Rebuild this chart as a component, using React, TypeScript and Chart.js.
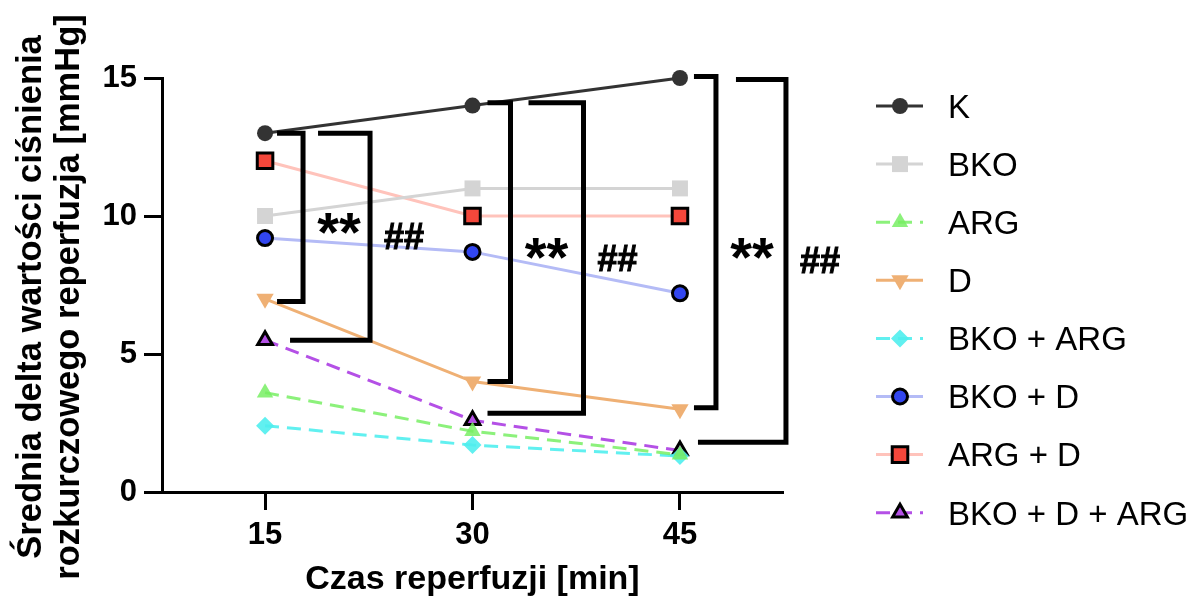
import React, { useEffect, useRef } from 'react';
import { Chart, registerables } from 'chart.js';
import { drawPoint } from 'chart.js/helpers';

Chart.register(...registerables);

// Reperfusion time points [min] and axis ticks
const times = [15, 30, 45];
const xTicks = [15, 30, 45];
const yTicks = [0, 5, 10, 15];

// Mean delta of diastolic pressure [mmHg] per group
const kValues = [13, 14, 15];
const bkoValues = [10, 11, 11];
const argValues = [3.6, 2.2, 1.35];
const dValues = [7, 4, 3];
const bkoArgValues = [2.4, 1.7, 1.3];
const bkoDValues = [9.2, 8.7, 7.2];
const argDValues = [12, 10, 10];
const bkoDArgValues = [5.5, 2.6, 1.5];

// Significance brackets: time point, upper / lower end [mmHg], label
const bracketTimes = [15, 15, 30, 30, 45, 45];
const bracketUpper = [13, 13, 14.1, 14.1, 15.05, 14.95];
const bracketLower = [6.9, 5.5, 4, 2.85, 3.05, 1.8];
const bracketLabels = ['**', '##', '**', '##', '**', '##'];

const FONT = '"Liberation Sans", Arial, Helvetica, sans-serif';

// pixel offsets of each bracket relative to its time point
const bracketGeometry = [
  { arm: 38, top: 12, bottom: 12 },
  { arm: 105, top: 53, bottom: 25 },
  { arm: 38, top: 15, bottom: 15 },
  { arm: 111, top: 56, bottom: 15 },
  { arm: 36, top: 14, bottom: 14 },
  { arm: 106, top: 56, bottom: 18 },
];

const DASH = [14, 8];

const seriesStyles = [
  { label: 'K', data: kValues, line: '#333333', fill: '#333333', style: 'circle', radius: 8, border: 0, dash: [] as number[] },
  { label: 'BKO', data: bkoValues, line: '#d4d4d4', fill: '#d4d4d4', style: 'rect', radius: 11.3, border: 0, dash: [] },
  { label: 'ARG', data: argValues, line: 'rgba(120,238,100,0.85)', fill: 'rgba(120,238,100,0.85)', style: 'triangle', radius: 9.5, border: 0, dash: DASH },
  { label: 'D', data: dValues, line: '#efb074', fill: '#efb074', style: 'triangle', rotation: 180, radius: 10, border: 0, dash: [] },
  { label: 'BKO + ARG', data: bkoArgValues, line: 'rgba(80,238,238,0.9)', fill: 'rgba(80,238,238,0.9)', style: 'rectRot', radius: 9, border: 0, dash: DASH },
  { label: 'BKO + D', data: bkoDValues, line: '#b4bbf6', fill: '#3246f0', style: 'circle', radius: 7.5, border: 3, dash: [] },
  { label: 'ARG + D', data: argDValues, line: '#ffc3bb', fill: '#f4473b', style: 'rect', radius: 11, border: 3, dash: [] },
  { label: 'BKO + D + ARG', data: bkoDArgValues, line: '#b450e6', fill: '#b450e6', style: 'triangle', radius: 8.5, border: 3, dash: DASH },
];

const bracketPlugin = {
  id: 'brackets',
  afterDatasetsDraw(chart: any) {
    const { ctx, scales } = chart;
    const xs = scales.x;
    const ys = scales.y;
    ctx.save();
    ctx.strokeStyle = '#000';
    ctx.fillStyle = '#000';
    ctx.lineWidth = 5;
    ctx.lineJoin = 'miter';
    ctx.lineCap = 'butt';
    bracketTimes.forEach((t, i) => {
      const g = bracketGeometry[i];
      const px = xs.getPixelForValue(t);
      const yTop = ys.getPixelForValue(bracketUpper[i]);
      const yBot = ys.getPixelForValue(bracketLower[i]);
      const vx = px + g.arm;
      ctx.beginPath();
      ctx.moveTo(px + g.top, yTop);
      ctx.lineTo(vx, yTop);
      ctx.lineTo(vx, yBot);
      ctx.lineTo(px + g.bottom, yBot);
      ctx.stroke();
      const mid = (yTop + yBot) / 2;
      const lbl = bracketLabels[i];
      ctx.textAlign = 'center';
      ctx.textBaseline = 'alphabetic';
      if (lbl === '**') {
        const size = 56;
        ctx.font = `bold ${size}px ${FONT}`;
        ctx.fillText(lbl, vx + 36, mid + 0.6 * size);
      } else {
        const size = 36;
        ctx.font = `bold ${size}px ${FONT}`;
        ctx.lineWidth = 1;
        ctx.strokeText(lbl, vx + 34, mid + 0.35 * size);
        ctx.fillText(lbl, vx + 34, mid + 0.35 * size);
        ctx.lineWidth = 5;
      }
    });
    ctx.restore();
  },
};

const legendPlugin = {
  id: 'sideLegend',
  afterDraw(chart: any) {
    const { ctx } = chart;
    ctx.save();
    seriesStyles.forEach((s, i) => {
      const y = 106 + i * 58.1;
      ctx.beginPath();
      ctx.setLineDash(s.dash);
      ctx.strokeStyle = s.line;
      ctx.lineWidth = 3;
      ctx.moveTo(876, y);
      ctx.lineTo(923, y);
      ctx.stroke();
      ctx.setLineDash([]);
      ctx.fillStyle = s.fill;
      ctx.strokeStyle = '#000';
      ctx.lineWidth = s.border;
      drawPoint(ctx, { pointStyle: s.style, radius: s.radius, rotation: (s as any).rotation || 0, borderWidth: s.border } as any, 900, y);
      ctx.fillStyle = '#000';
      ctx.font = `33px ${FONT}`;
      ctx.textAlign = 'left';
      ctx.textBaseline = 'alphabetic';
      ctx.fillText(s.label, 948, y + 0.358 * 33);
    });
    ctx.restore();
  },
};

const yTitlePlugin = {
  id: 'yTitle',
  afterDraw(chart: any) {
    const { ctx } = chart;
    ctx.save();
    ctx.fillStyle = '#000';
    ctx.font = `bold 34.5px ${FONT}`;
    ctx.textAlign = 'center';
    ctx.textBaseline = 'middle';
    ctx.translate(0, 297);
    ctx.rotate(-Math.PI / 2);
    ctx.fillText('Średnia delta wartości ciśnienia', 0, 31);
    ctx.fillText('rozkurczowego reperfuzja [mmHg]', 0, 69);
    ctx.restore();
  },
};

export default function App() {
  const ref = useRef<HTMLCanvasElement>(null);
  useEffect(() => {
    if (!ref.current) return;
    const tickFont = { family: FONT, weight: 'bold' as const, size: 31 };
    const chart = new Chart(ref.current, {
      type: 'line',
      data: {
        datasets: seriesStyles.map((s) => ({
          label: s.label,
          data: times.map((t, i) => ({ x: t, y: s.data[i] })),
          borderColor: s.line,
          backgroundColor: s.fill,
          borderWidth: 3,
          borderDash: s.dash,
          pointStyle: s.style as any,
          pointRotation: (s as any).rotation || 0,
          pointRadius: s.radius,
          pointHoverRadius: s.radius,
          pointBackgroundColor: s.fill,
          pointBorderColor: s.border ? '#000' : s.fill,
          pointBorderWidth: s.border,
          tension: 0,
          clip: false as any,
        })),
      },
      options: {
        responsive: false,
        animation: false,
        devicePixelRatio: 1,
        layout: { padding: { top: 78, right: 408, bottom: 0, left: 0 }, autoPadding: false } as any,
        plugins: { legend: { display: false }, tooltip: { enabled: false } },
        scales: {
          x: {
            type: 'linear',
            min: 7.55,
            max: 52.45,
            afterFit: (s: any) => { s.height = 109; },
            afterBuildTicks: (s: any) => { s.ticks = xTicks.map((v) => ({ value: v })); },
            ticks: { font: tickFont, color: '#000', padding: 7 },
            grid: { drawOnChartArea: false, tickLength: 18, tickWidth: 3, tickColor: '#000' },
            border: { color: '#000', width: 3 },
            title: {
              display: true,
              text: 'Czas reperfuzji [min]',
              color: '#000',
              font: { family: FONT, weight: 'bold', size: 34 },
              padding: { top: 0, bottom: 1 },
            },
          },
          y: {
            min: 0,
            max: 15,
            afterFit: (s: any) => { s.width = 162; },
            afterBuildTicks: (s: any) => { s.ticks = yTicks.map((v) => ({ value: v })); },
            ticks: { font: tickFont, color: '#000', padding: 7 },
            grid: { drawOnChartArea: false, tickLength: 18, tickWidth: 3, tickColor: '#000' },
            border: { color: '#000', width: 3 },
          },
        },
      },
      plugins: [bracketPlugin, legendPlugin, yTitlePlugin],
    });
    return () => chart.destroy();
  }, []);
  return (
    <div style={{ position: 'absolute', left: 0, top: 0, width: 1191, height: 601, background: '#fff' }}>
      <canvas ref={ref} width={1191} height={601} style={{ display: 'block' }} />
    </div>
  );
}
